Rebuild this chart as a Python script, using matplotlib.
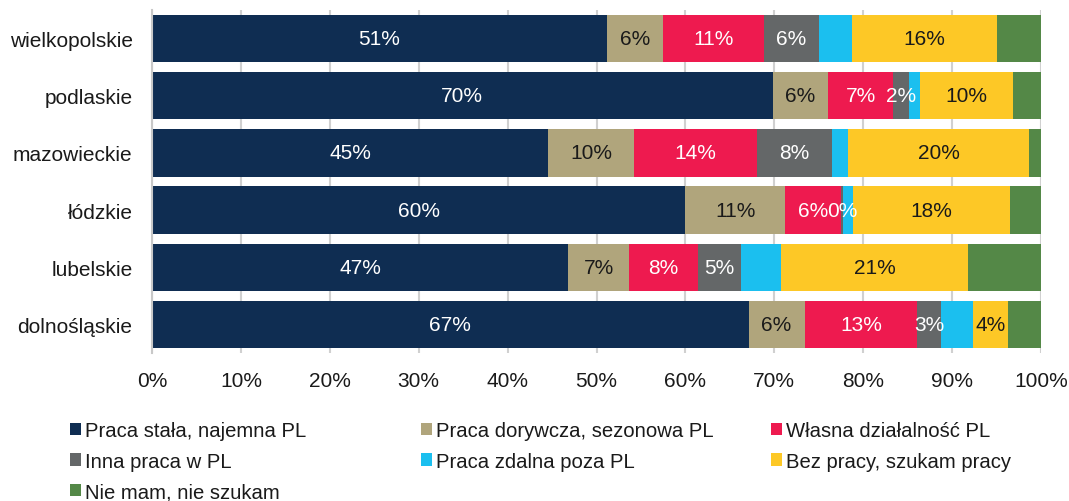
import matplotlib
matplotlib.use("Agg")
import matplotlib.pyplot as plt
import numpy as np

plt.rcParams['font.family'] = ['Liberation Sans', 'DejaVu Sans']

# Regions (top to bottom) and answer categories
regions = ["wielkopolskie", "podlaskie", "mazowieckie", "łódzkie", "lubelskie", "dolnośląskie"]
categories = [
    "Praca stała, najemna PL",
    "Praca dorywcza, sezonowa PL",
    "Własna działalność PL",
    "Inna praca w PL",
    "Praca zdalna poza PL",
    "Bez pracy, szukam pracy",
    "Nie mam, nie szukam",
]

# Shares (%) per category, one value per region
praca_stala = [51.2, 69.8, 44.6, 60.0, 46.8, 67.1]
praca_dorywcza = [6.3, 6.2, 9.6, 11.2, 6.9, 6.3]
wlasna_dzialalnosc = [11.3, 7.4, 13.9, 6.3, 7.7, 12.7]
inna_praca = [6.2, 1.8, 8.4, 0.2, 4.9, 2.6]
praca_zdalna = [3.7, 1.2, 1.8, 1.2, 4.5, 3.7]
bez_pracy = [16.3, 10.5, 20.4, 17.6, 21.0, 3.9]
nie_szukam = [5.0, 3.1, 1.3, 3.5, 8.2, 3.7]

series = [praca_stala, praca_dorywcza, wlasna_dzialalnosc, inna_praca,
          praca_zdalna, bez_pracy, nie_szukam]
colors = ["#0F2D52", "#B0A57C", "#EE1A4F", "#646768", "#1BBFEF", "#FDC826", "#548847"]
label_colors = ["white", "#1a1a1a", "white", "white", None, "#1a1a1a", None]

x_ticks = [0, 10, 20, 30, 40, 50, 60, 70, 80, 90, 100]
x_tick_labels = [f"{t}%" for t in x_ticks]

fig = plt.figure(figsize=(10.69, 5.02), dpi=100)
ax = fig.add_axes([152 / 1069, 1 - 354 / 502, (1041 - 152) / 1069, (354 - 11) / 502])

y = np.arange(len(regions))
left = np.zeros(len(regions))
handles = []
for vals, col, lc, name in zip(series, colors, label_colors, categories):
    vals = np.array(vals)
    bars = ax.barh(y, vals, left=left, height=0.83, color=col, label=name, zorder=2)
    handles.append(bars)
    if lc is not None:
        for yi, (l, v) in enumerate(zip(left, vals)):
            ax.text(l + v / 2, yi, f"{v:.0f}%", ha="center", va="center",
                    color=lc, fontsize=15, zorder=3)
    left += vals

ax.set_xlim(0, 100)
ax.set_ylim(len(regions) - 0.5, -0.5)
ax.set_xticks(x_ticks)
ax.set_xticklabels(x_tick_labels)
ax.set_yticks(y)
ax.set_yticklabels(regions)
ax.tick_params(axis="x", length=0, pad=13, labelsize=15, labelcolor="#1a1a1a")
ax.tick_params(axis="y", length=0, pad=14, labelsize=15, labelcolor="#1a1a1a")
ax.grid(axis="x", color="#D0D0D0", linewidth=1.5, zorder=0)
ax.set_axisbelow(True)
for s in ["top", "right", "bottom"]:
    ax.spines[s].set_visible(False)
ax.spines["left"].set_color("#C8C8C8")
ax.spines["left"].set_linewidth(1.5)

# Legend laid out as three fixed-width columns
col_x = [70, 421, 771]
col_items = [[0, 3, 6], [1, 4], [2, 5]]
for cx, items in zip(col_x, col_items):
    leg = fig.legend([handles[i] for i in items], [categories[i] for i in items],
                     loc="upper left", bbox_to_anchor=(cx / 1069, 1 - 422 / 502),
                     frameon=False, fontsize=14.6, borderpad=0, borderaxespad=0,
                     handlelength=0.55, handleheight=0.55, handletextpad=0.2,
                     labelspacing=0.58)
    for t in leg.get_texts():
        t.set_color("#1a1a1a")

fig.savefig("out.png", dpi=100)
